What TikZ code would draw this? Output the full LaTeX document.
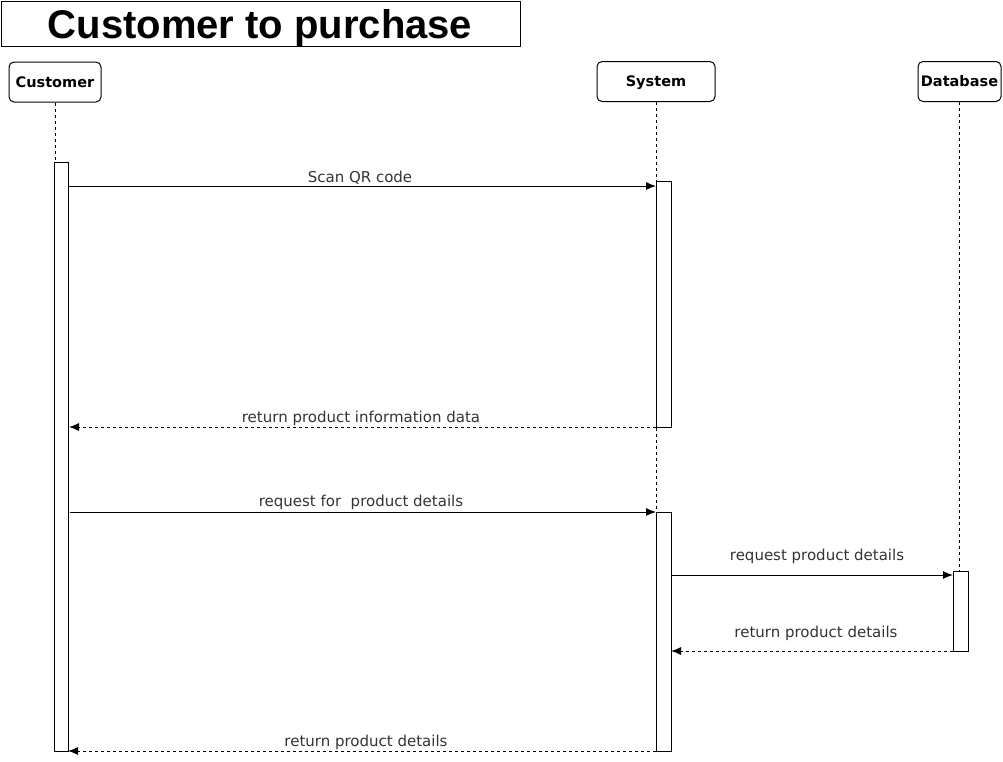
\documentclass[tikz,border=0pt]{standalone}
\usepackage{fontspec}
\setmainfont{DejaVu Sans}
\newfontfamily\titlefont{Liberation Sans}
\usetikzlibrary{shapes,arrows.meta}
\definecolor{labelgrey}{HTML}{333333}

\begin{document}
\begin{tikzpicture}[x=1pt,y=-1pt,line width=1pt,
    actor/.style={draw,rounded corners=5pt,minimum height=40pt,inner sep=0pt,text height=10.5pt,text depth=0pt,font=\bfseries\fontsize{14.5}{16}\selectfont},
    bar/.style={draw,fill=white,inner sep=0pt,minimum width=14pt},
    life/.style={dash pattern=on 3pt off 3pt},
    msg/.style={-{Latex[length=10pt,width=8pt]}},
    reply/.style={-{Latex[length=10pt,width=8pt]},dash pattern=on 3pt off 3pt},
    lbl/.style={text=labelgrey,font=\fontsize{15}{17}\selectfont,inner sep=0pt}]
        \path[use as bounding box] (0,0) rectangle (1003,761);

        \node [draw,minimum width=519pt,minimum height=45pt,inner sep=0pt] (title) at (260.5,23.5) {};
        \node [font=\titlefont\bfseries\fontsize{40}{42}\selectfont,inner sep=0pt] (titletext) at (260,28) {Customer to purchase};

        \node [actor,minimum width=92pt] (customer) at (55,82) {Customer};
        \node [actor,minimum width=118pt] (system) at (656,81.5) {System};
        \node [actor,minimum width=83pt] (database) at (959.5,81.5) {Database};

        \node [bar,minimum height=589pt] (cact) at (61.5,456.5) {};
        \node [bar,minimum height=246pt,minimum width=15pt] (sact1) at (663.5,304) {};
        \node [bar,minimum height=239pt,minimum width=15pt] (sact2) at (663.5,631.5) {};
        \node [bar,minimum height=80pt,minimum width=15pt] (dact) at (960.5,611) {};

        \draw[life] (customer.south) -- (customer.south |- cact.north);
        \draw[life] (system.south) -- (system.south |- sact1.north);
        \draw[life] (system.south |- sact1.south) -- (system.south |- sact2.north);
        \draw[life] (database.south) -- (database.south |- dact.north);

        \coordinate (m1a) at (68,186);   \coordinate (m1b) at (656,186);
        \coordinate (m2a) at (656,427);  \coordinate (m2b) at (69,427);
        \coordinate (m3a) at (70,512);   \coordinate (m3b) at (656,512);
        \coordinate (m4a) at (671,575);  \coordinate (m4b) at (953,575);
        \coordinate (m5a) at (953,651);  \coordinate (m5b) at (671,651);
        \coordinate (m6a) at (656,751);  \coordinate (m6b) at (68,751);

        \draw[msg] (m1a) -- (m1b);
        \draw[reply] (m2a) -- (m2b);
        \draw[msg] (m3a) -- (m3b);
        \draw[msg] (m4a) -- (m4b);
        \draw[reply] (m5a) -- (m5b);
        \draw[reply] (m6a) -- (m6b);

        \node [lbl] (l1) at (360,177.5) {Scan QR code};
        \node [lbl] (l2) at (361,418.5) {return product information data};
        \node [lbl] (l3) at (361,502.5) {request for\ \ product details};
        \node [lbl] (l4) at (817,556.5) {request product details};
        \node [lbl] (l5) at (816,633.5) {return product details};
        \node [lbl] (l6) at (366,742.5) {return product details};
      \end{tikzpicture}
\end{document}
